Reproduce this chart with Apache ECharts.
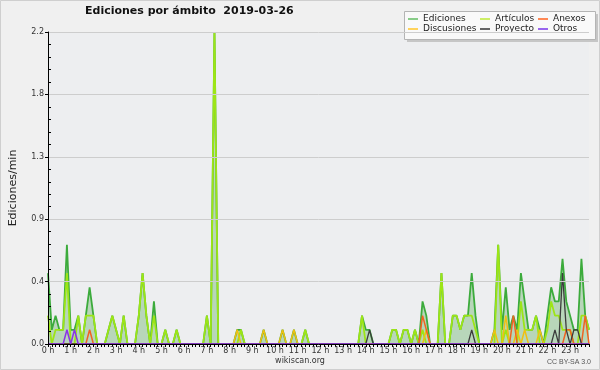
<!DOCTYPE html>
<html><head><meta charset="utf-8">
<script src="https://cdn.jsdelivr.net/npm/echarts@6/dist/echarts.min.js"></script>
<style>html,body{margin:0;padding:0;background:#f0f0f0}#c{width:600px;height:370px}</style>
</head><body><div id="c"></div><script>
// Hour tick labels
const hourLabels = ['0 h','1 h','2 h','3 h','4 h','5 h','6 h','7 h','8 h','9 h','10 h','11 h',
  '12 h','13 h','14 h','15 h','16 h','17 h','18 h','19 h','20 h','21 h','22 h','23 h'];
const minuteSteps = ['00','10','20','30','40','50'];

// Edits per minute, 10-minute bins (144 per day), 12 values per row = 2 hours
const ediciones = [
  0.5,0.1,0.2,0.1,0.1,0.7,0.1,0.1,0.2,0,0.2,0.4,
  0.2,0,0,0,0.1,0.2,0.1,0,0.2,0,0,0,
  0.2,0.5,0.2,0,0.3,0,0,0.1,0,0,0.1,0,
  0,0,0,0,0,0,0.2,0,2.2,0,0,0,
  0,0,0.1,0.1,0,0,0,0,0,0.1,0,0,
  0,0,0.1,0,0,0.1,0,0,0.1,0,0,0,
  0,0,0,0,0,0,0,0,0,0,0,0.2,
  0.1,0.1,0,0,0,0,0,0.1,0.1,0,0.1,0.1,
  0,0.1,0,0.3,0.2,0,0,0,0.5,0,0,0.2,
  0.2,0.1,0.2,0.2,0.5,0.2,0,0,0,0,0.1,0.7,
  0.1,0.4,0.1,0.2,0.1,0.5,0.3,0.1,0.1,0.2,0.1,0,
  0.2,0.4,0.3,0.3,0.6,0.3,0.2,0.1,0.1,0.6,0.2,0.1
];
const articulos = [
  0.2,0,0.1,0.1,0.1,0.5,0,0,0.2,0,0.2,0.2,
  0.2,0,0,0,0.1,0.2,0.1,0,0.2,0,0,0,
  0.2,0.5,0.2,0,0.2,0,0,0.1,0,0,0.1,0,
  0,0,0,0,0,0,0.2,0,2.2,0,0,0,
  0,0,0,0.1,0,0,0,0,0,0,0,0,
  0,0,0,0,0,0,0,0,0.1,0,0,0,
  0,0,0,0,0,0,0,0,0,0,0,0.2,
  0,0,0,0,0,0,0,0.1,0.1,0,0.1,0.1,
  0,0.1,0,0.1,0,0,0,0,0.5,0,0,0.2,
  0.2,0.1,0.2,0.2,0.2,0.1,0,0,0,0,0,0.7,
  0,0.1,0,0,0,0.3,0.1,0.1,0.1,0.2,0,0,
  0.1,0.3,0.2,0.2,0.1,0.1,0.1,0,0,0.2,0.2,0.1
];
const discusiones = [
  0,0,0,0,0,0,0,0,0,0,0,0,
  0,0,0,0,0,0,0,0,0,0,0,0,
  0,0,0,0,0,0,0,0,0,0,0,0,
  0,0,0,0,0,0,0,0,0,0,0,0,
  0,0,0.1,0,0,0,0,0,0,0.1,0,0,
  0,0,0.1,0,0,0.1,0,0,0,0,0,0,
  0,0,0,0,0,0,0,0,0,0,0,0,
  0,0,0,0,0,0,0,0,0,0,0,0,
  0,0,0,0,0.1,0,0,0,0,0,0,0,
  0,0,0,0,0,0,0,0,0,0,0.1,0,
  0,0.2,0,0,0.1,0,0.1,0,0,0,0.1,0,
  0,0,0,0,0,0,0,0,0,0,0,0
];
const anexos = [
  0,0,0,0,0,0,0,0,0,0,0,0.1,
  0,0,0,0,0,0,0,0,0,0,0,0,
  0,0,0,0,0,0,0,0,0,0,0,0,
  0,0,0,0,0,0,0,0,0,0,0,0,
  0,0,0,0,0,0,0,0,0,0,0,0,
  0,0,0,0,0,0,0,0,0,0,0,0,
  0,0,0,0,0,0,0,0,0,0,0,0,
  0,0,0,0,0,0,0,0,0,0,0,0,
  0,0,0,0.2,0.1,0,0,0,0,0,0,0,
  0,0,0,0,0,0,0,0,0,0,0,0,
  0,0,0,0.2,0,0,0,0,0,0,0,0,
  0,0,0,0,0,0.1,0.1,0,0,0,0.2,0
];
const proyecto = [
  0,0,0,0,0,0,0,0,0,0,0,0,
  0,0,0,0,0,0,0,0,0,0,0,0,
  0,0,0,0,0,0,0,0,0,0,0,0,
  0,0,0,0,0,0,0,0,0,0,0,0,
  0,0,0,0,0,0,0,0,0,0,0,0,
  0,0,0,0,0,0,0,0,0,0,0,0,
  0,0,0,0,0,0,0,0,0,0,0,0,
  0,0.1,0,0,0,0,0,0,0,0,0,0,
  0,0,0,0,0,0,0,0,0,0,0,0,
  0,0,0,0,0.1,0,0,0,0,0,0,0,
  0,0,0,0,0,0,0,0,0,0,0,0,
  0,0,0.1,0,0.5,0.1,0,0.1,0.1,0,0,0
];
const otros = [
  0,0,0,0,0,0.1,0,0.1,0,0,0,0,
  0,0,0,0,0,0,0,0,0,0,0,0,
  0,0,0,0,0,0,0,0,0,0,0,0,
  0,0,0,0,0,0,0,0,0,0,0,0,
  0,0,0,0,0,0,0,0,0,0,0,0,
  0,0,0,0,0,0,0,0,0,0,0,0,
  0,0,0,0,0,0,0,0,0,0,0,0,
  0,0,0,0,0,0,0,0,0,0,0,0,
  0,0,0,0,0,0,0,0,0,0,0,0,
  0,0,0,0,0,0,0,0,0,0,0,0,
  0,0,0,0,0,0,0,0,0,0,0,0,
  0,0,0,0,0,0,0,0,0,0,0,0
];

const times = [];
hourLabels.forEach((h, hi) => minuteSteps.forEach(m => times.push(hi + ':' + m)));

const FONT = 'DejaVu Sans';
const chart = echarts.init(document.getElementById('c'), null, {renderer: 'canvas'});

function mk(name, data, color, width, extra) {
  return Object.assign({
    name, type: 'line', data, symbol: 'none', showSymbol: false, animation: false,
    lineStyle: {color, width}, itemStyle: {color},
    emphasis: {disabled: true}, silent: true, z: 3
  }, extra || {});
}

const legendCommon = {
  orient: 'vertical', icon: 'rect', itemWidth: 10, itemHeight: 2, itemGap: 0,
  padding: 0, top: 14, selectedMode: false,
  textStyle: {fontFamily: FONT, fontSize: 9, color: '#222', lineHeight: 10}
};

chart.setOption({
  animation: false,
  backgroundColor: '#f0f0f0',
  title: {
    text: 'Ediciones por ámbito  2019-03-26', left: 85, top: 6, padding: 0,
    textStyle: {fontFamily: FONT, fontSize: 11, fontWeight: 'bold', color: '#111'}
  },
  legend: [
    Object.assign({}, legendCommon, {left: 408, data: [
      {name: 'Ediciones', itemStyle: {color: '#88cc88'}},
      {name: 'Discusiones', itemStyle: {color: '#ffd35c'}}]}),
    Object.assign({}, legendCommon, {left: 480, data: [
      {name: 'Artículos', itemStyle: {color: '#cdee66'}},
      {name: 'Proyecto', itemStyle: {color: '#666666'}}]}),
    Object.assign({}, legendCommon, {left: 538, data: [
      {name: 'Anexos', itemStyle: {color: '#ff8855'}},
      {name: 'Otros', itemStyle: {color: '#9966ee'}}]})
  ],
  grid: {left: 46, right: 11, top: 32, bottom: 26, show: true,
    backgroundColor: '#edeef0', borderWidth: 0},
  xAxis: {
    type: 'category', data: times, boundaryGap: false, z: 10,
    axisLine: {lineStyle: {color: '#000', width: 1}},
    axisTick: {show: true, interval: 0, length: 3, lineStyle: {color: '#000'}},
    axisLabel: {interval: 0, margin: 3, fontFamily: FONT, fontSize: 8, color: '#333',
      formatter: (v, i) => (i % 6 === 0 ? hourLabels[i / 6] : '')},
    splitLine: {show: false}
  },
  yAxis: [{
    type: 'value', min: 0, max: 2.2, interval: 0.44, z: 10,
    name: 'Ediciones/min', nameLocation: 'middle', nameGap: 29,
    nameTextStyle: {fontFamily: FONT, fontSize: 11, color: '#222'},
    axisLine: {show: true, lineStyle: {color: '#000', width: 1}},
    axisTick: {show: true, length: 3, lineStyle: {color: '#000'}},
    axisLabel: {fontFamily: FONT, fontSize: 8, color: '#333', margin: 4,
      formatter: v => v.toFixed(1)},
    splitLine: {show: true, lineStyle: {color: '#cdcdcd', width: 1}}
  }, {
    type: 'value', min: 0, max: 2.2, interval: 0.44, position: 'left', z: 10,
    axisLine: {show: false}, axisLabel: {show: false},
    axisTick: {show: false, inside: true},
    minorTick: {show: true, splitNumber: 5, length: 3, lineStyle: {color: '#000'}},
    splitLine: {show: false}
  }],
  series: [
    mk('Ediciones', ediciones, '#3cab3c', 1.8, {areaStyle: {color: 'rgba(70,165,70,0.45)'}}),
    mk('Artículos', articulos, '#9de516', 1.8),
    mk('Discusiones', discusiones, '#efc012', 1.5),
    mk('Anexos', anexos, '#f06322', 1.5),
    mk('Proyecto', proyecto, '#3c3c3c', 1.3),
    mk('Otros', otros, '#8a33e6', 1.5)
  ],
  graphic: [
    {type: 'rect', z: 0, shape: {x: 0.5, y: 0.5, width: 599, height: 369},
      style: {fill: 'none', stroke: '#cfcfcf', lineWidth: 1}},
    {type: 'rect', z: 0, shape: {x: 407, y: 14, width: 191, height: 28},
      style: {fill: '#c6c6c6'}},
    {type: 'rect', z: 1, shape: {x: 404.5, y: 11.5, width: 191, height: 28},
      style: {fill: '#f9f9f9', stroke: '#b4b4b4', lineWidth: 1}},
    {type: 'text', z: 1, x: 300, y: 361,
      style: {text: 'wikiscan.org', fontFamily: FONT, fontSize: 8, fill: '#333',
        textAlign: 'center', textVerticalAlign: 'middle'}},
    {type: 'text', z: 1, x: 591, y: 362,
      style: {text: 'CC BY-SA 3.0', fontFamily: 'Liberation Sans', fontSize: 7, fill: '#555',
        textAlign: 'right', textVerticalAlign: 'middle'}}
  ]
});
</script></body></html>
